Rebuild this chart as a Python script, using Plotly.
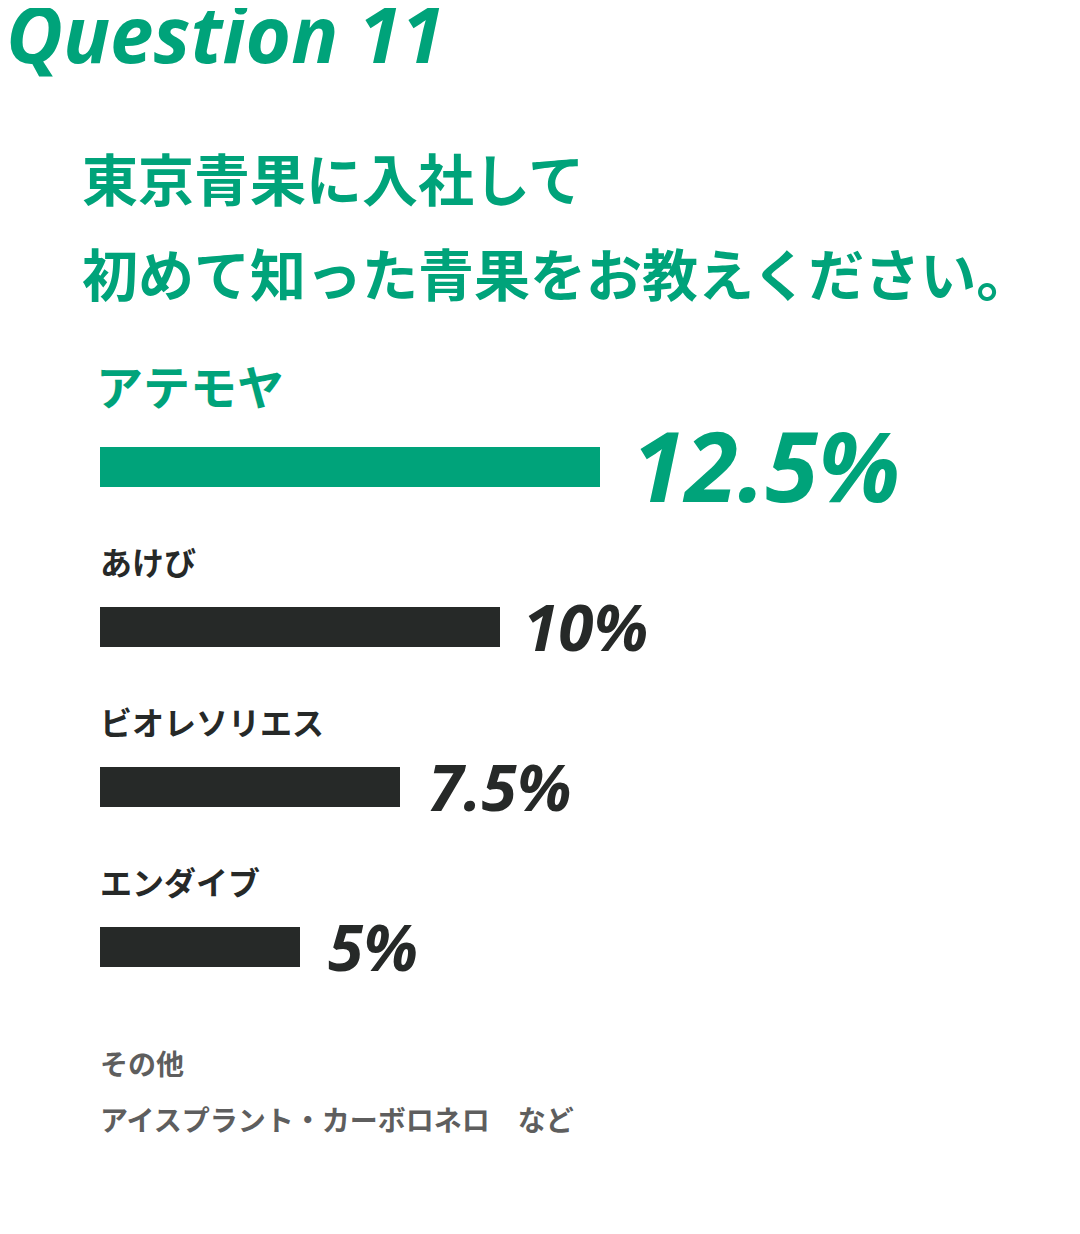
import plotly.graph_objects as go

# data
items = ["アテモヤ", "あけび", "ビオレソリエス", "エンダイブ"]
shares = [12.5, 10, 7.5, 5]
share_labels = ["12.5%", "10%", "7.5%", "5%"]
question_no = "Question 11"
question_lines = ["東京青果に入社して", "初めて知った青果をお教えください。"]
others_head = "その他"
others_text = "アイスプラント・カーボロネロ　など"

GREEN = "#00A37A"
DARK = "#262928"
GREY = "#5E5E5E"
JP = "Noto Sans CJK JP"
NUM = "Open Sans"

# page body has an 8px margin, so the figure is a bit smaller and shifted
OFF = 8
W, H = 1080 - OFF, 1234 - OFF


def px(p):
    return (p - OFF) / W


def py(p):
    return 1 - (p - OFF) / H


colors = [GREEN] + [DARK] * (len(items) - 1)
ypos = list(range(len(items)))
val_xshift = [30, 21, 26, 26]

fig = go.Figure()
fig.add_trace(go.Bar(
    x=shares, y=ypos, orientation="h", width=0.25,
    marker=dict(color=colors, line=dict(width=0)),
    hoverinfo="skip",
))

ann = []
# heading
ann.append(dict(text="<b><i>" + question_no + "</i></b>", x=px(4), y=py(33),
                xref="paper", yref="paper", xanchor="left", yanchor="middle",
                showarrow=False, font=dict(family=NUM, size=78, color=GREEN)))
for txt, cy in zip(question_lines, [176, 271]):
    ann.append(dict(text="<b>" + txt + "</b>", x=px(80), y=py(cy),
                    xref="paper", yref="paper", xanchor="left", yanchor="middle",
                    showarrow=False, font=dict(family=JP, size=56, color=GREEN)))

# bar names and values
for i, (name, val, lab) in enumerate(zip(items, shares, share_labels)):
    first = i == 0
    ann.append(dict(text="<b>" + name + "</b>", x=0, y=i, xref="x", yref="y",
                    xanchor="left", yanchor="middle", xshift=-6 if first else -2,
                    yshift=83 if first else 66, showarrow=False,
                    font=dict(family=JP, size=47 if first else 32,
                              color=GREEN if first else DARK)))
    ann.append(dict(text="<b><i>" + lab + "</i></b>", x=val, y=i, xref="x", yref="y",
                    xanchor="left", yanchor="middle", xshift=val_xshift[i],
                    yshift=3 if first else 1, showarrow=False,
                    font=dict(family=NUM, size=96 if first else 64,
                              color=GREEN if first else DARK)))

for txt, cy in zip([others_head, others_text], [1063, 1119]):
    ann.append(dict(text="<b>" + txt + "</b>", x=px(98), y=py(cy),
                    xref="paper", yref="paper", xanchor="left", yanchor="middle",
                    showarrow=False, font=dict(family=JP, size=28, color=GREY)))

fig.update_layout(
    width=W, height=H,
    margin=dict(l=0, r=0, t=0, b=0),
    paper_bgcolor="white", plot_bgcolor="white",
    showlegend=False,
    annotations=ann,
    xaxis=dict(range=[-(100 - OFF) / 40, (W - (100 - OFF)) / 40],
               visible=False, fixedrange=True),
    yaxis=dict(range=[-(467 - OFF) / 160 + H / 160, -(467 - OFF) / 160],
               visible=False, fixedrange=True),
)

fig.write_html("out.html", config={"displayModeBar": False})
